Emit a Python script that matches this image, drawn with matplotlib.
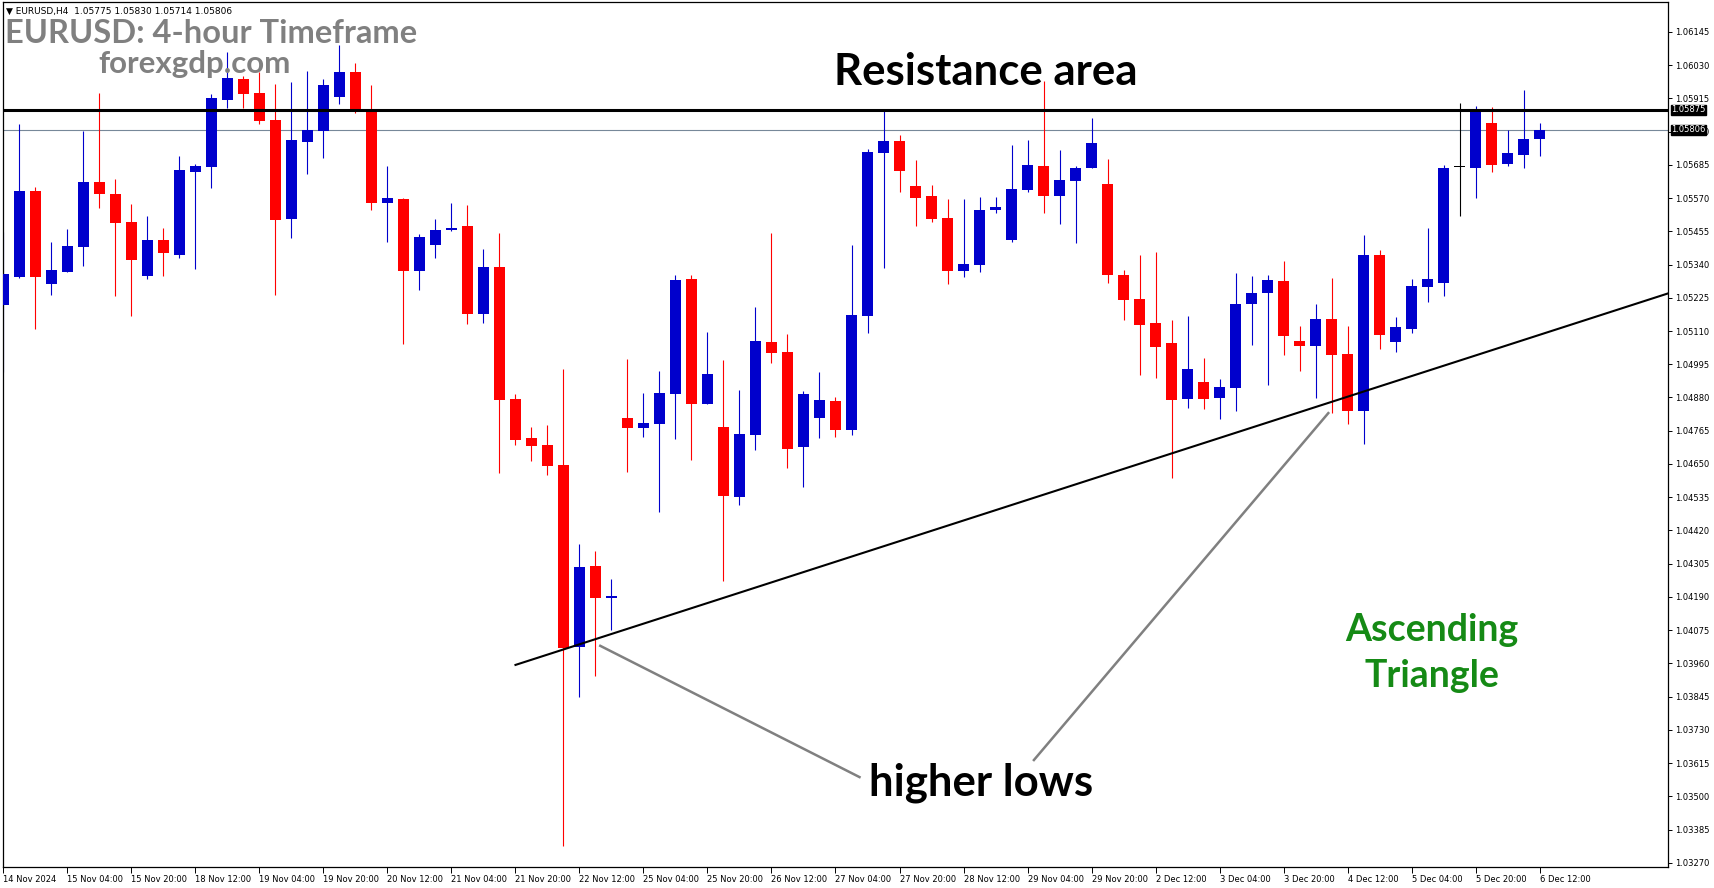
import numpy as np
import matplotlib.pyplot as plt
import matplotlib.transforms as mtransforms

# EURUSD H4 candles, 14 Nov 12:00 -> 6 Dec 12:00
opens = [1.05200, 1.05298, 1.05594, 1.05274, 1.05315, 1.05401, 1.05625, 1.05584, 1.05487, 1.05301,
         1.05425, 1.05373, 1.05661, 1.05678, 1.05909, 1.05981, 1.05933, 1.05840, 1.05498, 1.05765,
         1.05803, 1.05920, 1.06006, 1.05878, 1.05554, 1.05566, 1.05318, 1.05407, 1.05459, 1.05473,
         1.05170, 1.05331, 1.04875, 1.04740, 1.04716, 1.04646, 1.04018, 1.04297, 1.04188, 1.04809,
         1.04775, 1.04789, 1.04893, 1.05290, 1.04858, 1.04778, 1.04537, 1.04751, 1.05072, 1.05037,
         1.04710, 1.04810, 1.04868, 1.04769, 1.05163, 1.05727, 1.05767, 1.05611, 1.05577, 1.05501,
         1.05318, 1.05339, 1.05529, 1.05426, 1.05599, 1.05681, 1.05578, 1.05630, 1.05675, 1.05618,
         1.05304, 1.05221, 1.05138, 1.05068, 1.04876, 1.04933, 1.04879, 1.04914, 1.05204, 1.05242,
         1.05283, 1.05075, 1.05059, 1.05151, 1.05030, 1.04834, 1.05373, 1.05073, 1.05118, 1.05263,
         1.05277, 1.05676, 1.05674, 1.05829, 1.05688, 1.05719, 1.05775]
highs = [1.05453, 1.05826, 1.05609, 1.05419, 1.05463, 1.05803, 1.05934, 1.05636, 1.05549, 1.05508,
         1.05466, 1.05715, 1.05687, 1.05930, 1.06075, 1.05992, 1.06006, 1.05964, 1.05971, 1.06009,
         1.05981, 1.06099, 1.06037, 1.05961, 1.05681, 1.05570, 1.05445, 1.05497, 1.05552, 1.05546,
         1.05393, 1.05449, 1.04892, 1.04778, 1.04785, 1.04978, 1.04373, 1.04349, 1.04252, 1.05013,
         1.04895, 1.04972, 1.05304, 1.05304, 1.05106, 1.05010, 1.04906, 1.05193, 1.05449, 1.05100,
         1.04902, 1.04968, 1.04882, 1.05407, 1.05739, 1.05871, 1.05788, 1.05701, 1.05615, 1.05566,
         1.05566, 1.05573, 1.05573, 1.05753, 1.05770, 1.05974, 1.05736, 1.05681, 1.05846, 1.05705,
         1.05321, 1.05373, 1.05383, 1.05149, 1.05162, 1.05016, 1.04944, 1.05310, 1.05300, 1.05304,
         1.05352, 1.05127, 1.05203, 1.05293, 1.05127, 1.05442, 1.05390, 1.05158, 1.05290, 1.05466,
         1.05684, 1.05898, 1.05888, 1.05885, 1.05806, 1.05943, 1.05830]
lows = [1.04968, 1.05294, 1.05118, 1.05234, 1.05315, 1.05335, 1.05536, 1.05231, 1.05162, 1.05291,
        1.05300, 1.05363, 1.05325, 1.05605, 1.05880, 1.05880, 1.05826, 1.05234, 1.05432, 1.05653,
        1.05708, 1.05895, 1.05864, 1.05528, 1.05418, 1.05065, 1.05252, 1.05363, 1.05457, 1.05134,
        1.05138, 1.04620, 1.04717, 1.04661, 1.04613, 1.03330, 1.03845, 1.03918, 1.04076, 1.04623,
        1.04744, 1.04485, 1.04737, 1.04665, 1.04858, 1.04246, 1.04509, 1.04699, 1.05000, 1.04637,
        1.04571, 1.04741, 1.04744, 1.04751, 1.05104, 1.05328, 1.05592, 1.05474, 1.05488, 1.05274,
        1.05298, 1.05315, 1.05519, 1.05419, 1.05592, 1.05519, 1.05481, 1.05415, 1.05675, 1.05277,
        1.05149, 1.04959, 1.04948, 1.04602, 1.04845, 1.04841, 1.04807, 1.04834, 1.05062, 1.04922,
        1.05028, 1.04973, 1.04879, 1.04825, 1.04789, 1.04720, 1.05049, 1.05038, 1.05104, 1.05211,
        1.05232, 1.05509, 1.05571, 1.05660, 1.05682, 1.05675, 1.05714]
closes = [1.05306, 1.05594, 1.05298, 1.05321, 1.05404, 1.05625, 1.05585, 1.05484, 1.05356, 1.05425,
          1.05381, 1.05667, 1.05681, 1.05916, 1.05985, 1.05931, 1.05837, 1.05494, 1.05770, 1.05806,
          1.05961, 1.06006, 1.05878, 1.05554, 1.05570, 1.05318, 1.05435, 1.05459, 1.05466, 1.05170,
          1.05331, 1.04872, 1.04734, 1.04713, 1.04644, 1.04015, 1.04294, 1.04188, 1.04193, 1.04775,
          1.04792, 1.04895, 1.05286, 1.04858, 1.04961, 1.04540, 1.04754, 1.05075, 1.05035, 1.04703,
          1.04892, 1.04871, 1.04769, 1.05165, 1.05729, 1.05767, 1.05664, 1.05571, 1.05498, 1.05318,
          1.05342, 1.05528, 1.05539, 1.05601, 1.05684, 1.05578, 1.05632, 1.05674, 1.05760, 1.05305,
          1.05218, 1.05132, 1.05056, 1.04872, 1.04978, 1.04876, 1.04916, 1.05203, 1.05241, 1.05286,
          1.05094, 1.05059, 1.05151, 1.05028, 1.04834, 1.05373, 1.05097, 1.05124, 1.05265, 1.05290,
          1.05674, 1.05676, 1.05872, 1.05685, 1.05725, 1.05774, 1.05806]

time_labels = ["14 Nov 2024", "15 Nov 04:00", "15 Nov 20:00", "18 Nov 12:00", "19 Nov 04:00",
               "19 Nov 20:00", "20 Nov 12:00", "21 Nov 04:00", "21 Nov 20:00", "22 Nov 12:00",
               "25 Nov 04:00", "25 Nov 20:00", "26 Nov 12:00", "27 Nov 04:00", "27 Nov 20:00",
               "28 Nov 12:00", "29 Nov 04:00", "29 Nov 20:00", "2 Dec 12:00", "3 Dec 04:00",
               "3 Dec 20:00", "4 Dec 12:00", "5 Dec 04:00", "5 Dec 20:00", "6 Dec 12:00"]
label_step = 4

resistance = 1.05875
bid = 1.05806

# ascending support line, two anchors (bar index, price)
trend_x = [32.0, 104.2]
trend_y = [1.03955, 1.05243]

# "higher lows" pointer lines (bar index, price)
ptr1_x = [37.3, 53.5]
ptr1_y = [1.04021, 1.03567]
ptr2_x = [82.8, 64.4]
ptr2_y = [1.04826, 1.03626]

BULL = "#0000CC"
BEAR = "#FF0000"

o = np.array(opens)
h = np.array(highs)
l = np.array(lows)
c = np.array(closes)
x = np.arange(len(o))
colors = np.where(c > o, BULL, np.where(c < o, BEAR, "black"))

fig = plt.figure(figsize=(17.14, 8.88), dpi=100)
ax = fig.add_axes([3 / 1714, 21 / 888, 1665 / 1714, 865 / 888])

ax.vlines(x, l, h, colors=colors, lw=0.8, zorder=2)
body_lo = np.minimum(o, c)
body_h = np.maximum(np.abs(c - o), 0.00004)
ax.bar(x, body_h, bottom=body_lo, width=0.69, color=colors, lw=0, zorder=3)

ax.axhline(resistance, color="black", lw=2.2, zorder=4)
ax.axhline(bid, color="#778899", lw=0.8, zorder=1)
ax.plot(trend_x, trend_y, color="black", lw=1.5, zorder=4)
ax.plot(ptr1_x, ptr1_y, color="#808080", lw=1.8, zorder=4)
ax.plot(ptr2_x, ptr2_y, color="#808080", lw=1.8, zorder=4)

ax.set_xlim(-0.03, 104.03)
ax.set_ylim(1.03256, 1.06248)

ax.yaxis.tick_right()
ax.set_yticks(np.round(np.arange(1.06145, 1.03260, -0.00115), 5))
ax.yaxis.set_major_formatter(plt.FormatStrFormatter("%.5f"))
ax.tick_params(axis="y", direction="out", length=3, width=0.7, labelsize=6, pad=2)
ax.set_xticks(x[::label_step])
ax.set_xticklabels(time_labels, ha="left")
ax.tick_params(axis="x", direction="out", length=4, width=0.7, labelsize=6, pad=2)
for s in ax.spines.values():
    s.set_linewidth(0.9)

# price tags on the right scale
tag = mtransforms.blended_transform_factory(ax.transAxes, ax.transData)
for price in (resistance, bid):
    ax.text(1.002, price, f"{price:.5f}", transform=tag, fontsize=6, color="white",
            va="center", ha="left",
            bbox=dict(boxstyle="square,pad=0.08", fc="black", ec="black"))

ax.text(0.002, 0.9896, "\u25bc EURUSD,H4  1.05775 1.05830 1.05714 1.05806",
        transform=ax.transAxes, fontsize=6.5, va="center", ha="left")
ax.text(0.0012, 0.953, "EURUSD: 4-hour Timeframe", transform=ax.transAxes,
        family="Lato", weight="bold", fontsize=23.5, color="#808080", va="baseline")
ax.text(0.057, 0.918, "forexgdp.com", transform=ax.transAxes,
        family="Lato", weight="bold", fontsize=22.5, color="#808080", va="baseline")

ax.text(61.4, 1.05961, "Resistance area", family="Lato", weight="bold", fontsize=31.5,
        ha="center", va="baseline", zorder=5)
ax.text(61.1, 1.03502, "higher lows", family="Lato", weight="bold", fontsize=31.5,
        ha="center", va="baseline", zorder=5)
ax.text(89.3, 1.03996, "Ascending\nTriangle", family="Lato", weight="bold", fontsize=27,
        color="#158a15", ha="center", va="center", linespacing=1.45, zorder=5)

fig.savefig("out.png", dpi=100)
